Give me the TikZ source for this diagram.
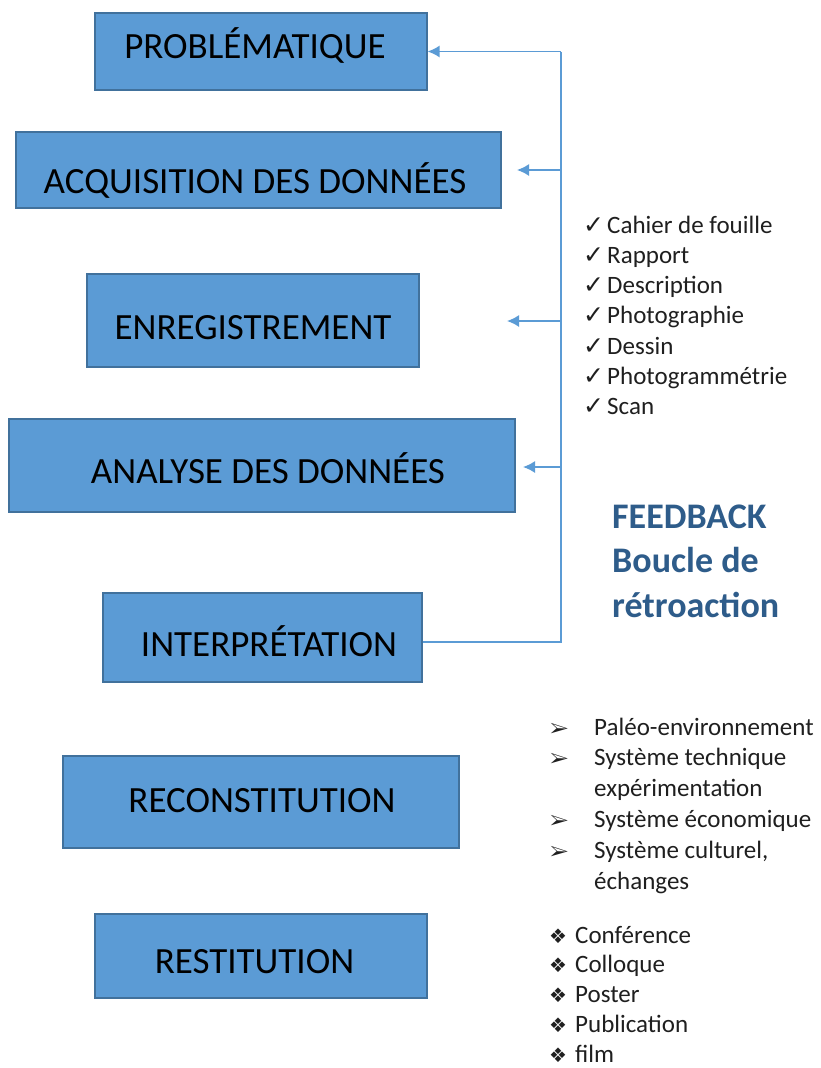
\documentclass[tikz,border=0pt]{standalone}
\usepackage{fontspec}
\usepackage{pifont}
\setmainfont{Carlito}
\newfontfamily\dingfont{DejaVu Sans}
\usetikzlibrary{arrows.meta}

\definecolor{stagefill}{HTML}{5B9BD5}
\definecolor{stageedge}{HTML}{41719C}
\definecolor{loopline}{HTML}{5B9BD5}
\definecolor{fbblue}{HTML}{2E5C8A}
\definecolor{listgray}{HTML}{1F1F1F}

\tikzset{
  stage/.style={draw=stageedge, fill=stagefill, line width=1.2pt, inner sep=0pt},
  stagelabel/.style={anchor=base, inner sep=0pt, font=\fontsize{37}{44}\selectfont},
  loopline/.style={draw=loopline, line width=1.5pt},
  backarrow/.style={loopline, -{Latex[length=12pt,width=12pt]}},
  itemlist/.style={anchor=base west, inner sep=0pt, text=listgray},
}

\begin{document}
\begin{tikzpicture}[x=1pt,y=-1pt]
    \useasboundingbox (0,0) rectangle (820,1068);

    % the seven stages
    \node[stage, minimum width=332pt, minimum height=77pt] (prob) at (261, 51.5) {};
    \node[stagelabel] (probtxt) at (255, 58) {PROBLÉMATIQUE};

    \node[stage, minimum width=485pt, minimum height=76pt] (acq) at (258.5, 170) {};
    \node[stagelabel] (acqtxt) at (255, 193) {ACQUISITION DES DONNÉES};

    \node[stage, minimum width=332pt, minimum height=93pt] (enr) at (253, 320.5) {};
    \node[stagelabel] (enrtxt) at (253, 339) {ENREGISTREMENT};

    \node[stage, minimum width=506pt, minimum height=93pt] (ana) at (262, 465.5) {};
    \node[stagelabel] (anatxt) at (268, 483) {ANALYSE DES DONNÉES};

    \node[stage, minimum width=319pt, minimum height=89pt] (interp) at (262.5, 637.5) {};
    \node[stagelabel] (interptxt) at (269, 656) {INTERPRÉTATION};

    \node[stage, minimum width=396pt, minimum height=92pt] (recon) at (261, 802) {};
    \node[stagelabel] (recontxt) at (262, 812) {RECONSTITUTION};

    \node[stage, minimum width=332pt, minimum height=84pt] (resti) at (261, 956) {};
    \node[stagelabel] (restitxt) at (254.5, 973) {RESTITUTION};

    % feedback loop
    \coordinate (fbtop) at (561, 51.5);
    \coordinate (fbbot) at (561, 642);
    \coordinate (toacq) at (517, 170);
    \coordinate (toenr) at (507, 321);
    \coordinate (toana) at (523, 467);

    \draw[loopline] (interp.east |- fbbot) -- (fbbot) -- (fbtop);
    \draw[backarrow] (fbtop) -- (prob.east);
    \draw[backarrow] (fbtop |- toacq) -- (toacq);
    \draw[backarrow] (fbtop |- toenr) -- (toenr);
    \draw[backarrow] (fbtop |- toana) -- (toana);

    \node[anchor=base west, inner sep=0pt, align=left, text=fbblue,
          font=\fontsize{36}{44.5}\selectfont\bfseries] (fbtxt) at (612, 617)
        {FEEDBACK\\Boucle de\\rétroaction};

    % lists
    \node[itemlist, font=\fontsize{25}{30.3}\selectfont] (outils) at (583, 233) {%
      \begin{tabular}[t]{@{}p{24pt}@{}l@{}}
        {\dingfont\fontsize{25}{25}\selectfont ✓} & Cahier de fouille\\
        {\dingfont\fontsize{25}{25}\selectfont ✓} & Rapport\\
        {\dingfont\fontsize{25}{25}\selectfont ✓} & Description\\
        {\dingfont\fontsize{25}{25}\selectfont ✓} & Photographie\\
        {\dingfont\fontsize{25}{25}\selectfont ✓} & Dessin\\
        {\dingfont\fontsize{25}{25}\selectfont ✓} & Photogrammétrie\\
        {\dingfont\fontsize{25}{25}\selectfont ✓} & Scan
      \end{tabular}};

    \node[itemlist, font=\fontsize{25}{30.8}\selectfont] (themes) at (550, 735) {%
      \begin{tabular}[t]{@{}p{44pt}@{}l@{}}
        {\fontsize{20}{20}\selectfont\ding{226}} & Paléo-environnement\\
        {\fontsize{20}{20}\selectfont\ding{226}} & Système technique\\
         & expérimentation\\
        {\fontsize{20}{20}\selectfont\ding{226}} & Système économique\\
        {\fontsize{20}{20}\selectfont\ding{226}} & Système culturel,\\
         & échanges
      \end{tabular}};

    \node[itemlist, font=\fontsize{25}{29.8}\selectfont] (diffusion) at (549, 943) {%
      \begin{tabular}[t]{@{}p{26pt}@{}l@{}}
        {\dingfont\fontsize{20}{20}\selectfont ❖} & Conférence\\
        {\dingfont\fontsize{20}{20}\selectfont ❖} & Colloque\\
        {\dingfont\fontsize{20}{20}\selectfont ❖} & Poster\\
        {\dingfont\fontsize{20}{20}\selectfont ❖} & Publication\\
        {\dingfont\fontsize{20}{20}\selectfont ❖} & film
      \end{tabular}};

\end{tikzpicture}
\end{document}
